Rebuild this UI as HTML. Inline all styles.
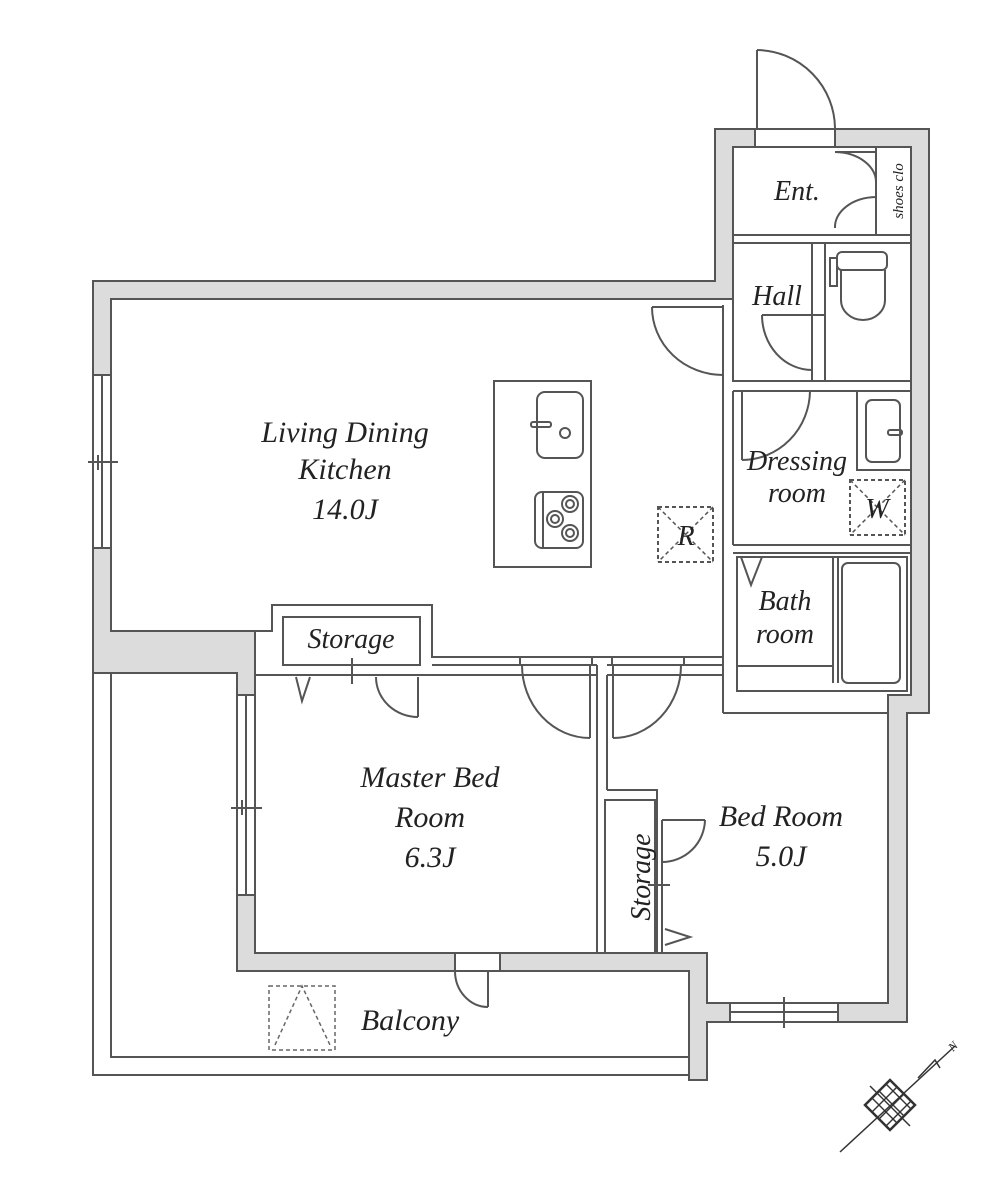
<!DOCTYPE html>
<html><head><meta charset="utf-8"><style>
html,body{margin:0;padding:0;background:#fff}
svg{display:block}
text{font-family:"Liberation Serif",serif;font-style:italic;fill:#222}
</style></head><body>
<svg width="999" height="1189" viewBox="0 0 999 1189" xmlns="http://www.w3.org/2000/svg">
<defs><clipPath id="cp"><polygon points="890,1080 915,1105 890,1130 865,1105"/></clipPath></defs>
<g stroke="#555" stroke-width="2" fill="none">
<polyline points="93,673 93,1075 689,1075"/>
<polyline points="111,673 111,1057 689,1057"/>
<polygon fill="#dcdcdc" points="93,281 715,281 715,129 929,129 929,713 907,713 907,1022 707,1022 707,1080 689,1080 689,971 237,971 237,673 93,673"/>
<polygon fill="#fff" points="111,299 733,299 733,147 911,147 911,695 888,695 888,1003 707,1003 707,953 255,953 255,631 111,631"/>
<rect x="93" y="375" width="18" height="173" fill="#fff"/><line x1="102" y1="375" x2="102" y2="548"/><line x1="88" y1="462" x2="118" y2="462"/><line x1="98" y1="455" x2="98" y2="470"/>
<rect x="237" y="695" width="18" height="200" fill="#fff"/><line x1="246" y1="695" x2="246" y2="895"/><line x1="231" y1="808" x2="262" y2="808"/><line x1="242" y1="800" x2="242" y2="815"/>
<rect x="730" y="1003" width="108" height="19" fill="#fff"/><line x1="730" y1="1012" x2="838" y2="1012"/><line x1="784" y1="997" x2="784" y2="1028"/>
<rect x="755" y="129" width="80" height="18" fill="#fff"/>
<line x1="757" y1="50" x2="757" y2="129"/><path d="M757,50 A79,79 0 0 1 835,129"/>
<rect x="455" y="953" width="45" height="18" fill="#fff"/>
<line x1="488" y1="971" x2="488" y2="1007"/><path d="M455,971 A33,36 0 0 0 488,1007"/>
<line x1="733" y1="235" x2="911" y2="235"/><line x1="733" y1="243" x2="911" y2="243"/>
<rect x="876" y="147" width="35" height="88"/>
<path d="M835,152 A42,30 0 0 1 876,183 M835,228 A42,30 0 0 1 876,197 M835,152 L876,152"/>
<rect x="733" y="243" width="79" height="138"/>
<rect x="825" y="243" width="86" height="138"/>
<line x1="812" y1="315" x2="825" y2="315"/><line x1="812" y1="381" x2="825" y2="381"/>
<line x1="762" y1="315" x2="812" y2="315"/><path d="M762,315 A50,55 0 0 0 812,370"/>
<rect x="837" y="252" width="50" height="18" rx="5"/><path d="M841,270 L841,300 A22,20 0 0 0 885,300 L885,270"/><rect x="830" y="258" width="7" height="28"/>
<line x1="723" y1="375" x2="723" y2="713"/><line x1="733" y1="391" x2="733" y2="545"/>
<line x1="723" y1="305" x2="723" y2="375"/>
<path d="M652,307 L723,307 M652,307 A71,68 0 0 0 723,375"/>
<line x1="723" y1="713" x2="888" y2="713"/>
<line x1="733" y1="391" x2="911" y2="391"/>
<line x1="733" y1="545" x2="911" y2="545"/><line x1="733" y1="553" x2="911" y2="553"/>
<path d="M742,391 L742,460 M810,391 A68,70 0 0 1 742,460"/>
<rect x="857" y="391" width="54" height="79"/>
<rect x="866" y="400" width="34" height="62" rx="6"/>
<rect x="888" y="430" width="14" height="5" rx="2"/>
<rect x="850" y="480" width="55" height="55" stroke-dasharray="4,3"/>
<path d="M850,480 L905,535 M905,480 L850,535" stroke-dasharray="4,3" stroke-width="1.5"/>
<rect x="737" y="557" width="170" height="134"/>
<line x1="737" y1="666" x2="833" y2="666"/>
<path d="M833,557 L833,683 M838,557 L838,683"/>
<rect x="842" y="563" width="58" height="120" rx="6"/>
<path d="M741,557 L751,585 L762,557"/>
<rect x="494" y="381" width="97" height="186"/>
<rect x="537" y="392" width="46" height="66" rx="8"/>
<rect x="531" y="422" width="20" height="5" rx="2"/><circle cx="565" cy="433" r="5"/>
<rect x="535" y="492" width="48" height="56" rx="7"/><line x1="543" y1="492" x2="543" y2="548"/>
<circle cx="570" cy="504" r="8"/><circle cx="570" cy="504" r="4"/>
<circle cx="555" cy="519" r="8"/><circle cx="555" cy="519" r="4"/>
<circle cx="570" cy="533" r="8"/><circle cx="570" cy="533" r="4"/>
<rect x="658" y="507" width="55" height="55" stroke-dasharray="4,3"/>
<path d="M658,507 L713,562 M713,507 L658,562" stroke-dasharray="4,3" stroke-width="1.5"/>
<polyline fill="#fff" points="255,631 272,631 272,605 432,605 432,657 723,657"/>
<line x1="255" y1="675" x2="597" y2="675"/><line x1="432" y1="665" x2="597" y2="665"/>
<line x1="607" y1="665" x2="723" y2="665"/><line x1="607" y1="675" x2="723" y2="675"/>
<rect x="283" y="617" width="137" height="48"/>
<line x1="352" y1="658" x2="352" y2="684"/>
<path d="M296,677 L302,701 L310,677"/>
<path d="M418,677 L418,717 M376,677 A42,40 0 0 0 418,717"/>
<rect x="520" y="657" width="72" height="8" fill="#fff"/>
<path d="M590,665 L590,738 M522,665 A68,73 0 0 0 590,738"/>
<rect x="612" y="657" width="72" height="8" fill="#fff"/>
<path d="M613,665 L613,738 M681,665 A68,73 0 0 1 613,738"/>
<line x1="597" y1="665" x2="597" y2="953"/><line x1="607" y1="675" x2="607" y2="790"/>
<polyline points="607,790 657,790 657,953"/>
<rect x="605" y="800" width="50" height="153"/>
<line x1="662" y1="820" x2="662" y2="953"/>
<path d="M662,820 L705,820 M705,820 A43,43 0 0 1 662,862"/>
<line x1="648" y1="885" x2="670" y2="885"/>
<path d="M665,929 L690,937 L665,945"/>
</g>
<g stroke="#666" stroke-width="1.5" fill="none" stroke-dasharray="4,3">
<rect x="269" y="986" width="66" height="64"/>
<path d="M275,1045 L302,986 L330,1045"/>
</g>
<g stroke="#333" stroke-width="1.5" fill="none">
<line x1="840" y1="1152" x2="955" y2="1046"/>
<g clip-path="url(#cp)">
<path d="M850,1090 L905,1145 M857,1083 L912,1138 M864,1076 L919,1131 M871,1069 L926,1124 M878,1062 L933,1117 M843,1097 L898,1152"/>
<path d="M850,1120 L905,1065 M857,1127 L912,1072 M864,1134 L919,1079 M871,1141 L926,1086 M878,1148 L933,1093 M843,1113 L898,1058"/>
</g>
<polygon stroke-width="2.5" points="890,1080 915,1105 890,1130 865,1105"/>
<line x1="870" y1="1086" x2="910" y2="1126"/>
<path d="M918,1078 L935,1060 L940,1068"/>
</g>
<text x="953" y="1052" font-size="12" transform="rotate(-45 953 1052)">N</text>
<g font-size="30">
<text x="345" y="442" text-anchor="middle">Living Dining</text>
<text x="345" y="479" text-anchor="middle">Kitchen</text>
<text x="345" y="519" text-anchor="middle">14.0J</text>
<text x="430" y="787" text-anchor="middle">Master Bed</text>
<text x="430" y="827" text-anchor="middle">Room</text>
<text x="430" y="867" text-anchor="middle">6.3J</text>
<text x="781" y="826" text-anchor="middle">Bed Room</text>
<text x="781" y="866" text-anchor="middle">5.0J</text>
<text x="410" y="1030" text-anchor="middle">Balcony</text>
</g>
<g font-size="28">
<text x="351" y="648" text-anchor="middle">Storage</text>
<text x="797" y="200" text-anchor="middle">Ent.</text>
<text x="777" y="305" text-anchor="middle">Hall</text>
<text x="797" y="470" text-anchor="middle">Dressing</text>
<text x="797" y="502" text-anchor="middle">room</text>
<text x="785" y="610" text-anchor="middle">Bath</text>
<text x="785" y="643" text-anchor="middle">room</text>
<text x="686" y="545" text-anchor="middle">R</text>
<text x="877" y="518" text-anchor="middle">W</text>
<text x="640" y="877" text-anchor="middle" transform="rotate(-90 640 877)" dy="10">Storage</text>
</g>
<text x="898" y="191" font-size="15" text-anchor="middle" transform="rotate(-90 898 191)" dy="5">shoes clo</text>
</svg>
</body></html>
